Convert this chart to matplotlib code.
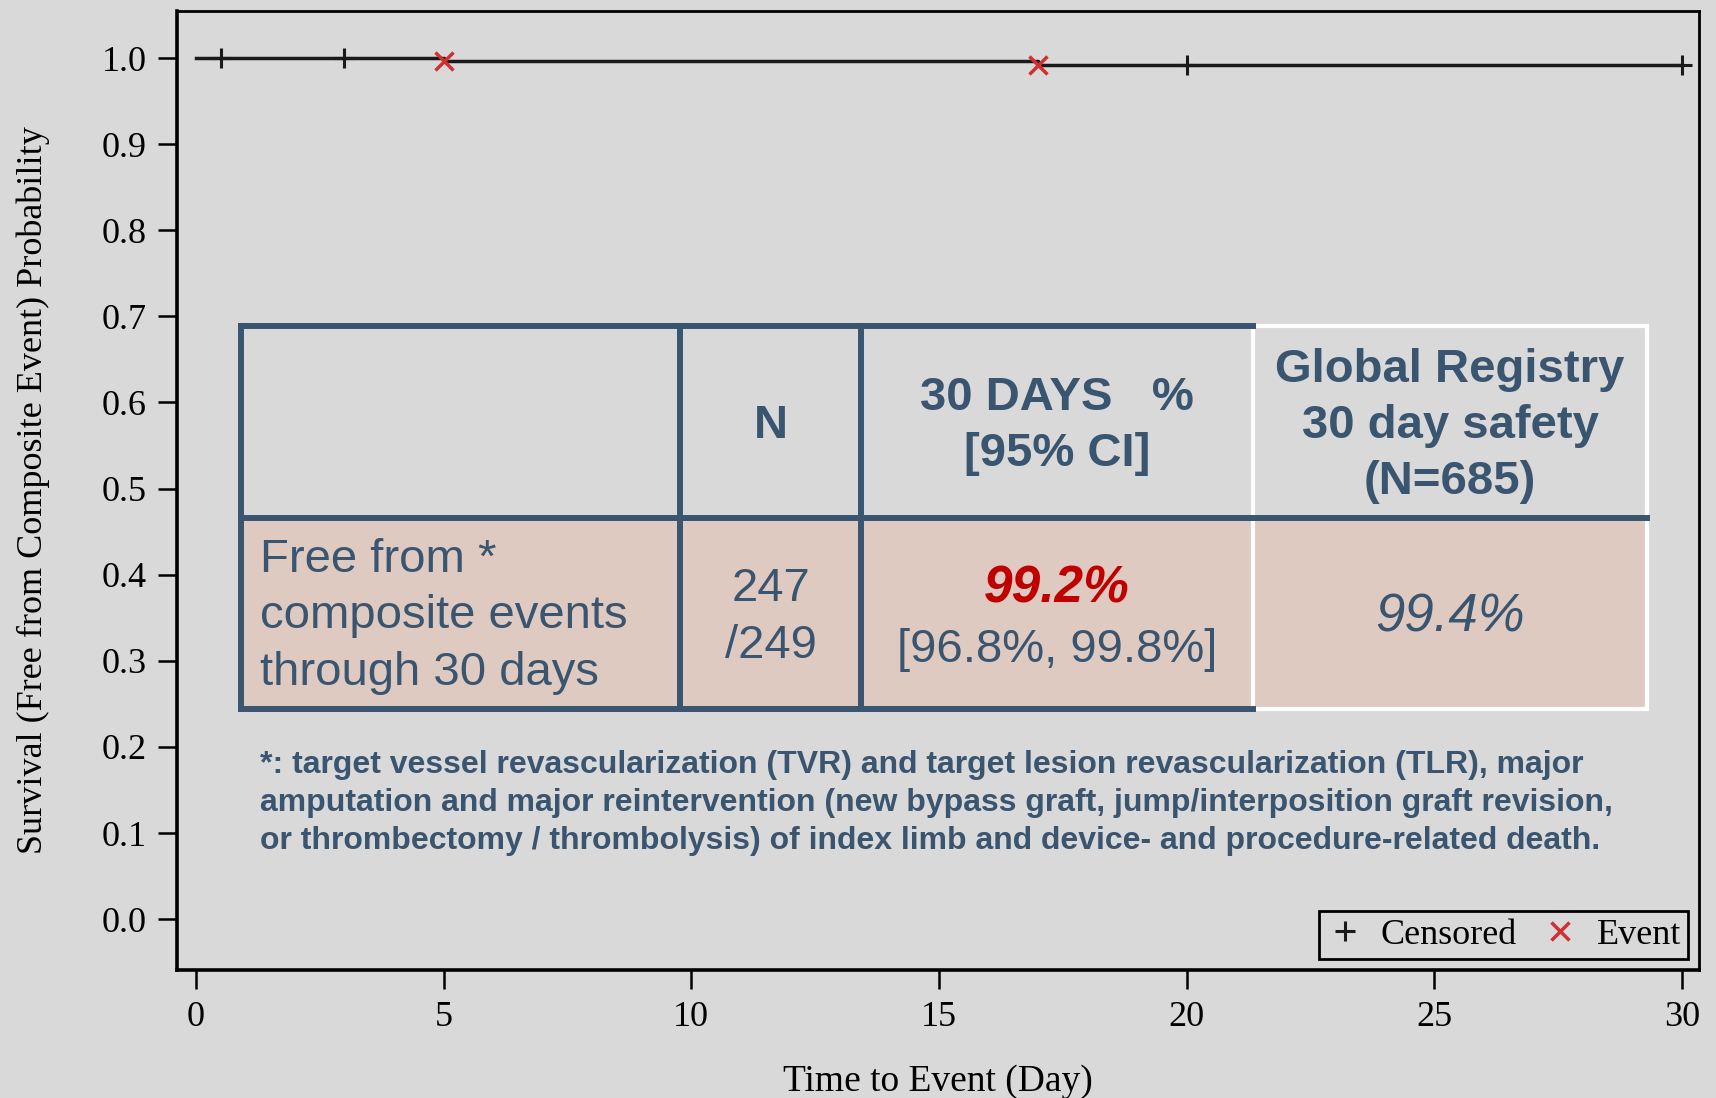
import numpy as np
import matplotlib
matplotlib.use('Agg')
import matplotlib.pyplot as plt
from matplotlib.lines import Line2D
from matplotlib.patches import Rectangle

# Kaplan-Meier data
step_times = [0, 5, 17, 30]
step_surv = [1.0, 0.996, 0.992, 0.992]
event_times = [5, 17]
censor_times = [0.5, 3, 20, 30]

# table content
header_cells = ["", "N", "30 DAYS   %\n[95% CI]", "Global Registry\n30 day safety\n(N=685)"]
row_label = "Free from *\ncomposite events\nthrough 30 days"
row_n = "247\n/249"
row_pct = "99.2%"
row_ci = "[96.8%, 99.8%]"
row_registry = "99.4%"
footnote = ("*: target vessel revascularization (TVR) and target lesion revascularization (TLR), major\n"
            "amputation and major reintervention (new bypass graft, jump/interposition graft revision,\n"
            "or thrombectomy / thrombolysis) of index limb and device- and procedure-related death.")

bg = '#D9D9D9'
slate = '#3A5570'
serif = 'Liberation Serif'
sans = 'Liberation Sans'

W, H = 1716, 1098
fig = plt.figure(figsize=(W / 100, H / 100), dpi=100, facecolor=bg)
ax = fig.add_axes([177 / W, 1 - 970 / H, (1699 - 177) / W, (970 - 11) / H], facecolor=bg)


def surv_at(t):
    i = np.searchsorted(step_times, t, side='right') - 1
    return np.array(step_surv)[i]


ax.plot(step_times, step_surv, drawstyle='steps-post', color='#1a1a1a', lw=2.5, zorder=3)
ax.plot(censor_times, surv_at(censor_times), ls='none', marker='+', color='#1a1a1a',
        ms=15, mew=2.2, zorder=4)
ax.plot(event_times, surv_at(event_times), ls='none', marker='x', color='#D03030',
        ms=13, mew=2.5, zorder=4)

ax.set_xlim(-0.38, 30.34)
ax.set_ylim(-0.059, 1.0546)
ax.set_xticks([0, 5, 10, 15, 20, 25, 30])
ax.set_yticks(np.arange(0, 1.01, 0.1))
ax.set_yticklabels(['%.1f' % v for v in np.arange(0, 1.01, 0.1)])
ax.tick_params(length=14, width=1.8, labelsize=26, pad=8)
for lab in ax.get_xticklabels() + ax.get_yticklabels():
    lab.set_fontfamily(serif)
for s in ['left', 'bottom']:
    ax.spines[s].set_linewidth(2.6)
for s in ['top', 'right']:
    ax.spines[s].set_linewidth(2.0)

ax.set_ylabel('Survival (Free from Composite Event) Probability', family=serif, fontsize=26,
              va='center')
ax.yaxis.set_label_coords(-0.0946, 0.5)
ax.set_xlabel('Time to Event (Day)', family=serif, fontsize=27, va='center')
ax.xaxis.set_label_coords(0.5, -0.116)

handles = [Line2D([], [], ls='none', marker='+', color='#1a1a1a', ms=15, mew=2.2),
           Line2D([], [], ls='none', marker='x', color='#D03030', ms=13, mew=2.5)]
leg = ax.legend(handles, ['Censored', 'Event'], loc='lower right', ncol=2, fancybox=False,
                edgecolor='black', facecolor=bg, framealpha=1, prop={'family': serif, 'size': 26},
                borderaxespad=0.3, borderpad=0.2, handlelength=1.0, handletextpad=0.5,
                columnspacing=0.7)
leg.get_frame().set_linewidth(2)

# overlay table in pixel coordinates
ov = fig.add_axes([0, 0, 1, 1])
ov.set_xlim(0, W)
ov.set_ylim(H, 0)
ov.axis('off')

cols = [241, 680, 861, 1253, 1647]
top, mid, bot = 326, 518, 709
ov.add_patch(Rectangle((cols[0], mid), cols[-1] - cols[0], bot - mid, facecolor='#DFCAC1',
                       edgecolor='none'))
ov.add_patch(Rectangle((cols[3], top), cols[4] - cols[3], bot - top, facecolor='none',
                       edgecolor='white', lw=3))
ov.plot([cols[0], cols[3]], [top, top], color=slate, lw=4.3, solid_capstyle='projecting')
ov.plot([cols[0], cols[3]], [bot, bot], color=slate, lw=4.3, solid_capstyle='projecting')
ov.plot([cols[0], cols[4]], [mid, mid], color=slate, lw=4.3)
for x in cols[:3]:
    ov.plot([x, x], [top, bot], color=slate, lw=4.3)

for i in range(1, 4):
    cx = (cols[i] + cols[i + 1]) / 2
    ov.text(cx, (top + mid) / 2 + 4, header_cells[i], ha='center', va='center', color=slate,
            family=sans, weight='bold', fontsize=34, linespacing=1.36)

ov.text(260, (mid + bot) / 2 + 3, row_label, ha='left', va='center', color=slate, family=sans,
        fontsize=34, linespacing=1.37)
ov.text((cols[1] + cols[2]) / 2, (mid + bot) / 2 + 4, row_n, ha='center', va='center',
        color=slate, family=sans, fontsize=34, linespacing=1.37)
ov.text((cols[2] + cols[3]) / 2, 589, row_pct, ha='center', va='center', color='#C00000',
        family=sans, weight='bold', style='italic', fontsize=37)
ov.text((cols[2] + cols[3]) / 2, 650, row_ci, ha='center', va='center', color=slate,
        family=sans, fontsize=34)
ov.text((cols[3] + cols[4]) / 2, 618, row_registry, ha='center', va='center', color=slate,
        family=sans, style='italic', fontsize=38)

ov.text(260, 803, footnote, ha='left', va='center', color=slate, family=sans, weight='bold',
        fontsize=23, linespacing=1.33)

fig.savefig('out.png', dpi=100, facecolor=bg)
